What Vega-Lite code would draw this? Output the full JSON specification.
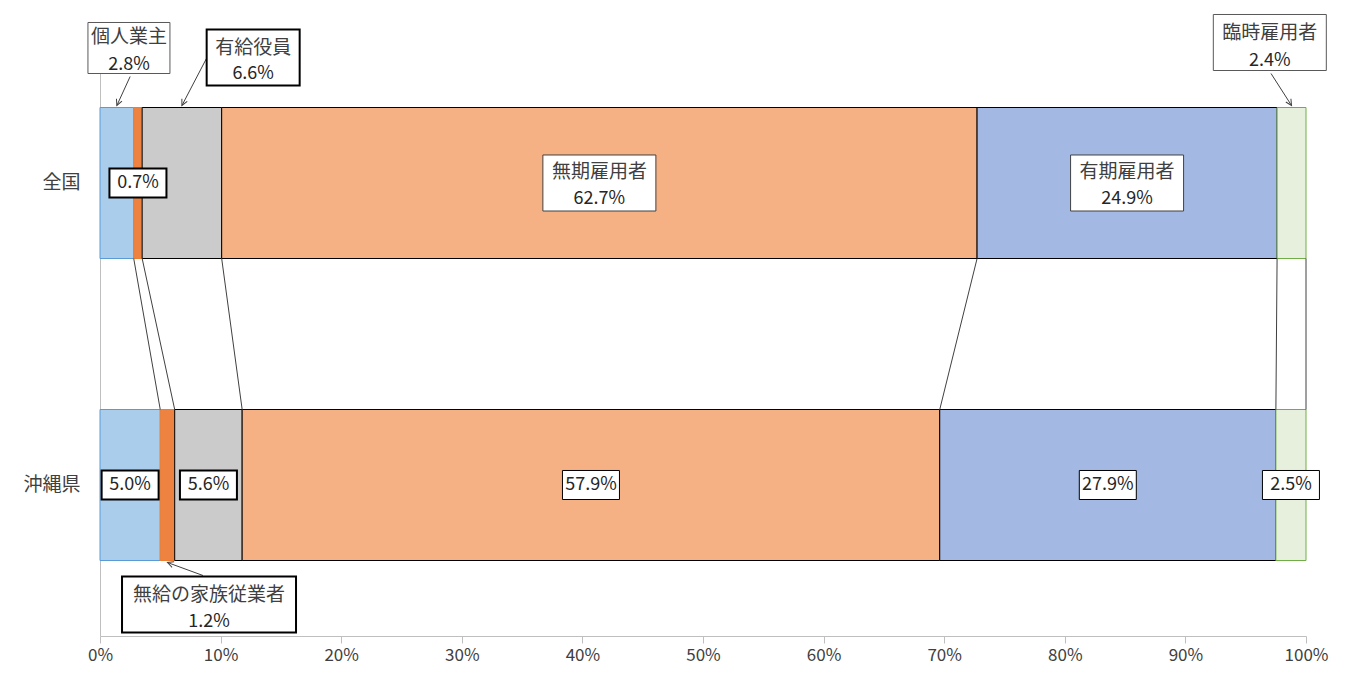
{
  "$schema": "https://vega.github.io/schema/vega-lite/v6.json",
  "width": 1206,
  "height": 604,
  "autosize": {"type": "none"},
  "padding": {"left": 100, "top": 32, "right": 40, "bottom": 38},
  "background": "white",
  "config": {"view": {"stroke": null}, "font": "Noto Sans CJK JP", "text": {"font": "Noto Sans CJK JP"}},
  "datasets": {
    "callouts": [
      {"category": "個人業主", "lx": 0.024, "ax": 0.025},
      {"category": "有給役員", "lx": 0.127, "ax": 0.0887},
      {"category": "臨時雇用者", "lx": 0.97, "ax": 0.971},
      {"category": "無給の家族従業者", "lx": 0.0904, "ax": 0.0854}
    ]
  },
  "data": {
    "values": [
      {"region": "全国", "category": "個人業主", "order": 1, "value": 0.028},
      {"region": "全国", "category": "無給の家族従業者", "order": 2, "value": 0.007},
      {"region": "全国", "category": "有給役員", "order": 3, "value": 0.066},
      {"region": "全国", "category": "無期雇用者", "order": 4, "value": 0.627},
      {"region": "全国", "category": "有期雇用者", "order": 5, "value": 0.249},
      {"region": "全国", "category": "臨時雇用者", "order": 6, "value": 0.024},
      {"region": "沖縄県", "category": "個人業主", "order": 1, "value": 0.050},
      {"region": "沖縄県", "category": "無給の家族従業者", "order": 2, "value": 0.012},
      {"region": "沖縄県", "category": "有給役員", "order": 3, "value": 0.056},
      {"region": "沖縄県", "category": "無期雇用者", "order": 4, "value": 0.579},
      {"region": "沖縄県", "category": "有期雇用者", "order": 5, "value": 0.279},
      {"region": "沖縄県", "category": "臨時雇用者", "order": 6, "value": 0.025}
    ]
  },
  "transform": [
    {"stack": "value", "groupby": ["region"], "sort": [{"field": "order", "order": "ascending"}], "offset": "normalize", "as": ["s", "e"]}
  ],
  "layer": [
    {
      "mark": {"type": "bar", "strokeWidth": 1},
      "encoding": {
        "x": {
          "field": "s", "type": "quantitative", "title": null,
          "scale": {"domain": [0, 1], "nice": false, "zero": false},
          "axis": {"values": [0, 0.1, 0.2, 0.3, 0.4, 0.5, 0.6, 0.7, 0.8, 0.9, 1], "format": ".0%", "title": null, "grid": false, "labelFlush": false, "labelOverlap": false, "domainColor": "#bfbfbf", "tickColor": "#bfbfbf", "tickSize": 7, "labelFontSize": 17, "labelColor": "#404040", "labelPadding": 4, "labelFont": "Noto Sans CJK JP"}
        },
        "x2": {"field": "e"},
        "y": {
          "field": "region", "type": "nominal", "title": null,
          "scale": {"paddingInner": 0.5, "paddingOuter": 0.25},
          "axis": {"title": null, "ticks": false, "domainColor": "#bfbfbf", "labelFontSize": 19, "labelColor": "#404040", "labelPadding": 20, "labelFont": "Noto Sans CJK JP"}
        },
        "color": {
          "field": "category", "type": "nominal", "legend": null,
          "scale": {"domain": ["個人業主", "無給の家族従業者", "有給役員", "無期雇用者", "有期雇用者", "臨時雇用者"], "range": ["#a9cdea", "#ee8240", "#cbcbcb", "#f5b184", "#a3b9e4", "#e6f0dc"]}
        },
        "stroke": {
          "field": "category", "type": "nominal", "legend": null,
          "scale": {"domain": ["個人業主", "無給の家族従業者", "有給役員", "無期雇用者", "有期雇用者", "臨時雇用者"], "range": ["#5b9bd5", "#ed7d31", "#000000", "#000000", "#000000", "#70ad47"]}
        }
      }
    },
    {
      "transform": [{"pivot": "region", "value": "e", "groupby": ["category"]}],
      "mark": {"type": "rule", "color": "#404040", "strokeWidth": 1},
      "encoding": {
        "x": {"field": "全国", "type": "quantitative", "title": null},
        "x2": {"field": "沖縄県"},
        "y": {"datum": "全国", "type": "nominal", "bandPosition": 1},
        "y2": {"datum": "沖縄県", "bandPosition": 0}
      }
    },
    {
      "transform": [
        {"fold": ["s", "e"], "as": ["k", "v"]},
        {"aggregate": [{"op": "mean", "field": "v", "as": "mid"}], "groupby": ["region", "category", "value"]},
        {"lookup": "category", "from": {"data": {"name": "callouts"}, "key": "category", "fields": ["lx", "ax"]}}
      ],
      "layer": [
        {
          "transform": [{"filter": "(datum.region === '全国' && datum.category === '無給の家族従業者') || (datum.region === '沖縄県' && datum.category !== '無給の家族従業者')"}],
          "layer": [
            {
              "mark": {"type": "point", "shape": "M-1,-0.509L1,-0.509L1,0.509L-1,0.509Z", "size": 3249, "filled": true, "fill": "white", "stroke": "#000000", "opacity": 1},
              "encoding": {
                "x": {"field": "mid", "type": "quantitative", "title": null},
                "y": {"field": "region", "type": "nominal", "title": null},
                "strokeWidth": {"condition": {"test": "datum.category === '無給の家族従業者' || datum.category === '個人業主' || datum.category === '有給役員'", "value": 2}, "value": 1}
              }
            },
            {
              "mark": {"type": "text", "fontSize": 18, "color": "#262626", "baseline": "middle", "align": "center"},
              "encoding": {
                "x": {"field": "mid", "type": "quantitative", "title": null},
                "y": {"field": "region", "type": "nominal", "title": null},
                "text": {"field": "value", "type": "quantitative", "format": ".1%"}
              }
            }
          ]
        },
        {
          "transform": [{"filter": "datum.region === '全国' && (datum.category === '無期雇用者' || datum.category === '有期雇用者')"}],
          "layer": [
            {
              "mark": {"type": "point", "shape": "M-1,-0.4956L1,-0.4956L1,0.4956L-1,0.4956Z", "size": 12769, "filled": true, "fill": "white", "stroke": "#404040", "strokeWidth": 1, "opacity": 1},
              "encoding": {
                "x": {"field": "mid", "type": "quantitative", "title": null},
                "y": {"field": "region", "type": "nominal", "title": null}
              }
            },
            {
              "mark": {"type": "text", "fontSize": 19, "color": "#404040", "baseline": "middle", "align": "center", "dy": -11},
              "encoding": {
                "x": {"field": "mid", "type": "quantitative", "title": null},
                "y": {"field": "region", "type": "nominal", "title": null},
                "text": {"field": "category", "type": "nominal"}
              }
            },
            {
              "mark": {"type": "text", "fontSize": 18, "color": "#262626", "baseline": "middle", "align": "center", "dy": 16},
              "encoding": {
                "x": {"field": "mid", "type": "quantitative", "title": null},
                "y": {"field": "region", "type": "nominal", "title": null},
                "text": {"field": "value", "type": "quantitative", "format": ".1%"}
              }
            }
          ]
        },
        {
          "transform": [{"filter": "datum.region === '全国' && datum.category === '個人業主'"}],
          "layer": [
            {
              "mark": {"type": "rule", "color": "#404040", "strokeWidth": 1, "yOffset": -31, "y2Offset": -2},
              "encoding": {
                "x": {"field": "ax", "type": "quantitative", "title": null},
                "x2": {"field": "mid"},
                "y": {"field": "region", "type": "nominal", "bandPosition": 0, "title": null},
                "y2": {"field": "region", "bandPosition": 0}
              }
            },
            {
              "mark": {"type": "point", "shape": "M-0.5,-1L0,0L0.5,-1", "size": 144, "filled": false, "color": "#404040", "stroke": "#404040", "strokeWidth": 1, "angle": 23, "yOffset": -2, "opacity": 1},
              "encoding": {
                "x": {"field": "mid", "type": "quantitative", "title": null},
                "y": {"field": "region", "type": "nominal", "bandPosition": 0, "title": null}
              }
            },
            {
              "mark": {"type": "point", "shape": "M-1,-0.622L1,-0.622L1,0.622L-1,0.622Z", "size": 6724, "filled": true, "fill": "white", "stroke": "#595959", "strokeWidth": 1, "yOffset": -59.5, "opacity": 1},
              "encoding": {
                "x": {"field": "lx", "type": "quantitative", "title": null},
                "y": {"field": "region", "type": "nominal", "bandPosition": 0, "title": null}
              }
            },
            {
              "mark": {"type": "text", "fontSize": 19, "color": "#404040", "baseline": "middle", "align": "center", "dy": -71},
              "encoding": {
                "x": {"field": "lx", "type": "quantitative", "title": null},
                "y": {"field": "region", "type": "nominal", "bandPosition": 0, "title": null},
                "text": {"field": "category", "type": "nominal"}
              }
            },
            {
              "mark": {"type": "text", "fontSize": 18, "color": "#262626", "baseline": "middle", "align": "center", "dy": -43},
              "encoding": {
                "x": {"field": "lx", "type": "quantitative", "title": null},
                "y": {"field": "region", "type": "nominal", "bandPosition": 0, "title": null},
                "text": {"field": "value", "type": "quantitative", "format": ".1%"}
              }
            }
          ]
        },
        {
          "transform": [{"filter": "datum.region === '全国' && datum.category === '有給役員'"}],
          "layer": [
            {
              "mark": {"type": "rule", "color": "#404040", "strokeWidth": 1, "yOffset": -50, "y2Offset": -2},
              "encoding": {
                "x": {"field": "ax", "type": "quantitative", "title": null},
                "x2": {"field": "mid"},
                "y": {"field": "region", "type": "nominal", "bandPosition": 0, "title": null},
                "y2": {"field": "region", "bandPosition": 0}
              }
            },
            {
              "mark": {"type": "point", "shape": "M-0.5,-1L0,0L0.5,-1", "size": 144, "filled": false, "color": "#404040", "stroke": "#404040", "strokeWidth": 1, "angle": 26, "yOffset": -2, "opacity": 1},
              "encoding": {
                "x": {"field": "mid", "type": "quantitative", "title": null},
                "y": {"field": "region", "type": "nominal", "bandPosition": 0, "title": null}
              }
            },
            {
              "mark": {"type": "point", "shape": "M-1,-0.602L1,-0.602L1,0.602L-1,0.602Z", "size": 8649, "filled": true, "fill": "white", "stroke": "#000000", "strokeWidth": 2, "yOffset": -50, "opacity": 1},
              "encoding": {
                "x": {"field": "lx", "type": "quantitative", "title": null},
                "y": {"field": "region", "type": "nominal", "bandPosition": 0, "title": null}
              }
            },
            {
              "mark": {"type": "text", "fontSize": 19, "color": "#404040", "baseline": "middle", "align": "center", "dy": -60},
              "encoding": {
                "x": {"field": "lx", "type": "quantitative", "title": null},
                "y": {"field": "region", "type": "nominal", "bandPosition": 0, "title": null},
                "text": {"field": "category", "type": "nominal"}
              }
            },
            {
              "mark": {"type": "text", "fontSize": 18, "color": "#262626", "baseline": "middle", "align": "center", "dy": -34},
              "encoding": {
                "x": {"field": "lx", "type": "quantitative", "title": null},
                "y": {"field": "region", "type": "nominal", "bandPosition": 0, "title": null},
                "text": {"field": "value", "type": "quantitative", "format": ".1%"}
              }
            }
          ]
        },
        {
          "transform": [{"filter": "datum.region === '全国' && datum.category === '臨時雇用者'"}],
          "layer": [
            {
              "mark": {"type": "rule", "color": "#404040", "strokeWidth": 1, "yOffset": -34, "y2Offset": -2},
              "encoding": {
                "x": {"field": "ax", "type": "quantitative", "title": null},
                "x2": {"field": "mid"},
                "y": {"field": "region", "type": "nominal", "bandPosition": 0, "title": null},
                "y2": {"field": "region", "bandPosition": 0}
              }
            },
            {
              "mark": {"type": "point", "shape": "M-0.5,-1L0,0L0.5,-1", "size": 144, "filled": false, "color": "#404040", "stroke": "#404040", "strokeWidth": 1, "angle": -32, "yOffset": -2, "opacity": 1},
              "encoding": {
                "x": {"field": "mid", "type": "quantitative", "title": null},
                "y": {"field": "region", "type": "nominal", "bandPosition": 0, "title": null}
              }
            },
            {
              "mark": {"type": "point", "shape": "M-1,-0.4956L1,-0.4956L1,0.4956L-1,0.4956Z", "size": 12769, "filled": true, "fill": "white", "stroke": "#595959", "strokeWidth": 1, "yOffset": -65, "opacity": 1},
              "encoding": {
                "x": {"field": "lx", "type": "quantitative", "title": null},
                "y": {"field": "region", "type": "nominal", "bandPosition": 0, "title": null}
              }
            },
            {
              "mark": {"type": "text", "fontSize": 19, "color": "#404040", "baseline": "middle", "align": "center", "dy": -75},
              "encoding": {
                "x": {"field": "lx", "type": "quantitative", "title": null},
                "y": {"field": "region", "type": "nominal", "bandPosition": 0, "title": null},
                "text": {"field": "category", "type": "nominal"}
              }
            },
            {
              "mark": {"type": "text", "fontSize": 18, "color": "#262626", "baseline": "middle", "align": "center", "dy": -47},
              "encoding": {
                "x": {"field": "lx", "type": "quantitative", "title": null},
                "y": {"field": "region", "type": "nominal", "bandPosition": 0, "title": null},
                "text": {"field": "value", "type": "quantitative", "format": ".1%"}
              }
            }
          ]
        },
        {
          "transform": [{"filter": "datum.region === '沖縄県' && datum.category === '無給の家族従業者'"}],
          "layer": [
            {
              "mark": {"type": "rule", "color": "#404040", "strokeWidth": 1, "yOffset": 15, "y2Offset": 2},
              "encoding": {
                "x": {"field": "ax", "type": "quantitative", "title": null},
                "x2": {"field": "mid"},
                "y": {"field": "region", "type": "nominal", "bandPosition": 1, "title": null},
                "y2": {"field": "region", "bandPosition": 1}
              }
            },
            {
              "mark": {"type": "point", "shape": "M-0.5,-1L0,0L0.5,-1", "size": 144, "filled": false, "color": "#404040", "stroke": "#404040", "strokeWidth": 1, "angle": 110, "yOffset": 2, "opacity": 1},
              "encoding": {
                "x": {"field": "mid", "type": "quantitative", "title": null},
                "y": {"field": "region", "type": "nominal", "bandPosition": 1, "title": null}
              }
            },
            {
              "mark": {"type": "point", "shape": "M-1,-0.3218L1,-0.3218L1,0.3218L-1,0.3218Z", "size": 30276, "filled": true, "fill": "white", "stroke": "#000000", "strokeWidth": 2, "yOffset": 44, "opacity": 1},
              "encoding": {
                "x": {"field": "lx", "type": "quantitative", "title": null},
                "y": {"field": "region", "type": "nominal", "bandPosition": 1, "title": null}
              }
            },
            {
              "mark": {"type": "text", "fontSize": 19, "color": "#404040", "baseline": "middle", "align": "center", "dy": 34},
              "encoding": {
                "x": {"field": "lx", "type": "quantitative", "title": null},
                "y": {"field": "region", "type": "nominal", "bandPosition": 1, "title": null},
                "text": {"field": "category", "type": "nominal"}
              }
            },
            {
              "mark": {"type": "text", "fontSize": 18, "color": "#262626", "baseline": "middle", "align": "center", "dy": 61},
              "encoding": {
                "x": {"field": "lx", "type": "quantitative", "title": null},
                "y": {"field": "region", "type": "nominal", "bandPosition": 1, "title": null},
                "text": {"field": "value", "type": "quantitative", "format": ".1%"}
              }
            }
          ]
        }
      ]
    }
  ]
}
